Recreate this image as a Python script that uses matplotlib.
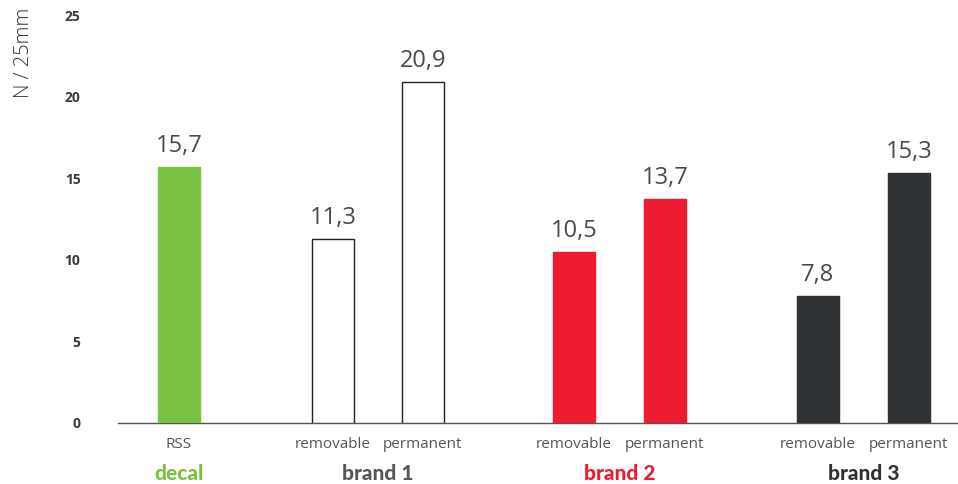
import matplotlib
matplotlib.use('Agg')
import matplotlib.pyplot as plt

# data
bar_labels = ['RSS', 'removable', 'permanent', 'removable', 'permanent', 'removable', 'permanent']
values = [15.7, 11.3, 20.9, 10.5, 13.7, 7.8, 15.3]
value_text = ['15,7', '11,3', '20,9', '10,5', '13,7', '7,8', '15,3']
groups = ['decal', 'brand 1', 'brand 2', 'brand 3']
group_members = [[0], [1, 2], [3, 4], [5, 6]]
yticks = [0, 5, 10, 15, 20, 25]

# layout / style
xpos = [0, 1.69, 2.68, 4.34, 5.34, 7.02, 8.02]
C_GREEN = '#7AC143'
C_RED = '#ED1B2F'
C_DARK = '#2E3235'
bar_face = [C_GREEN, 'white', 'white', C_RED, C_RED, C_DARK, C_DARK]
bar_edge = [C_GREEN, '#222222', '#222222', C_RED, C_RED, C_DARK, C_DARK]
group_colors = [C_GREEN, '#555859', C_RED, '#2E3235']

fig = plt.figure(figsize=(9.58, 4.84), dpi=100)
ax = fig.add_axes([118 / 958, 1 - 423 / 484, 1 - 118 / 958, (423 - 15) / 484])

ax.bar(xpos, values, width=0.46, color=bar_face, edgecolor=bar_edge, linewidth=1.0, zorder=3)

for x, v, t in zip(xpos, values, value_text):
    ax.text(x, v + 0.55, t, ha='center', va='bottom', fontsize=17,
            family='Open Sans', color='#4a4a4a')

ax.set_xlim(-0.67, 8.56)
ax.set_ylim(0, 25)
ax.set_yticks(yticks)
ax.set_yticklabels([str(t) for t in yticks], fontsize=10, fontweight='bold',
                   family='Open Sans', color='#3a3a3a')
ax.tick_params(axis='y', length=0, pad=27)
ax.set_xticks([])

for s in ['top', 'right', 'left']:
    ax.spines[s].set_visible(False)
ax.spines['bottom'].set_color('#555555')
ax.spines['bottom'].set_linewidth(1.0)

for x, lab in zip(xpos, bar_labels):
    ax.text(x, -1.3, lab, ha='center', va='center', fontsize=11,
            family='Open Sans', color='#555555', clip_on=False)

for g, members, col in zip(groups, group_members, group_colors):
    gx = sum(xpos[i] for i in members) / len(members)
    ax.text(gx, -3.1, g, ha='center', va='center', fontsize=15,
            family='Lato', fontweight='black', color=col, clip_on=False)

fig.text(24 / 958, 1 - 53 / 484, 'N / 25mm', rotation=90, ha='center', va='center',
         fontsize=14.5, family='Open Sans', fontweight='light', color='#333333')

fig.savefig('out.png', dpi=100)
